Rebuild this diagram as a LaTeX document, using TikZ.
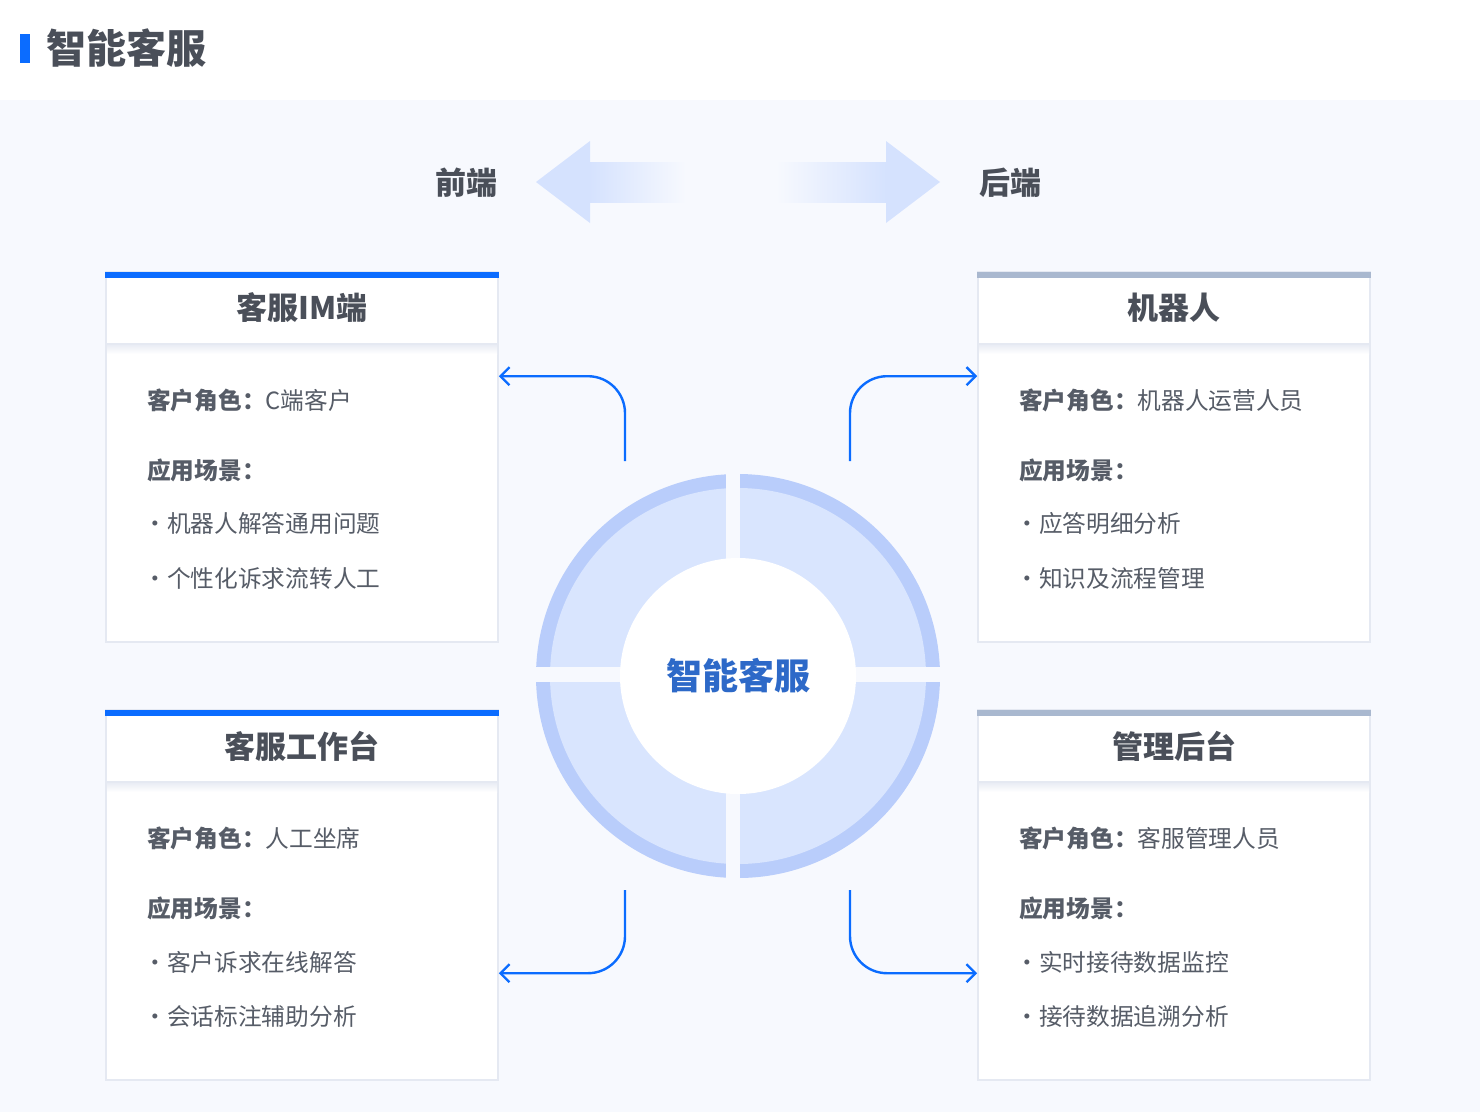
\documentclass[tikz,border=0pt]{standalone}
\usepackage{fontspec}
\setmainfont{Noto Sans CJK SC}
\usetikzlibrary{arrows.meta}
\pgfdeclarelayer{bg}
\pgfsetlayers{bg,main}
\definecolor{pagebg}{HTML}{F7F9FE}
\definecolor{mainblue}{HTML}{0B6CFF}
\definecolor{slatebar}{HTML}{A9B8CF}
\definecolor{cardline}{HTML}{E5E9F2}
\definecolor{headgrey}{HTML}{4A4F59}
\definecolor{textgrey}{HTML}{565C67}
\definecolor{ringblue}{HTML}{B9CDFB}
\definecolor{ringfill}{HTML}{D9E5FE}
\definecolor{hubblue}{HTML}{2D69C8}
\definecolor{wideblue}{HTML}{D5E2FE}
\tikzset{
    cardhead/.style={rectangle, draw=cardline, line width=1.6pt, fill=white, minimum width=392pt, minimum height=72pt, inner sep=0pt, font=\fontsize{31}{36}\selectfont\bfseries, text=headgrey},
    cardbody/.style={rectangle, draw=cardline, line width=1.6pt, fill=white, minimum width=392pt, minimum height=296pt, inner sep=0pt}
}
\tikzset{
    infotext/.style={anchor=west, inner sep=0pt, font=\fontsize{23.7}{28}\selectfont, text=textgrey},
    sidetext/.style={inner sep=0pt, font=\fontsize{31}{36}\selectfont\bfseries, text=headgrey},
    flowline/.style={draw=mainblue, line width=2.4pt, rounded corners=37pt, -{Straight Barb[length=9pt, width=18pt, line width=2.4pt]}}
}
\newcommand{\dotitem}{\makebox[20pt][l]{\hspace{-4pt}·}}

\begin{document}
\begin{tikzpicture}[x=1pt, y=-1pt]
        \useasboundingbox (0,0) rectangle (1480,1112);
        \fill[white] (0,0) rectangle (1480,100);
        \fill[pagebg] (0,100) rectangle (1480,1112);
        \fill[mainblue] (20,34) rectangle (30,63);
        \node (title) [anchor=west, inner sep=0pt, font=\fontsize{40}{46}\selectfont\bfseries, text=headgrey] at (46,48) {智能客服};

        \node (front) [sidetext] at (466,183) {前端};
        \node (back) [sidetext] at (1010,183) {后端};
        \fill[wideblue] (536,182) -- (590,141) -- (590,223) -- cycle;
        \shade[left color=wideblue, right color=pagebg] (589.5,162) rectangle (686,202);
        \fill[wideblue] (940,182) -- (886,141) -- (886,223) -- cycle;
        \shade[left color=pagebg, right color=wideblue] (776,162) rectangle (886.5,202);

        \node (imhead) [cardhead] at (302,308) {客服IM端};
        \node (imbody) [cardbody] at (302,494) {};
        \node (bothead) [cardhead] at (1174,308) {机器人};
        \node (botbody) [cardbody] at (1174,494) {};
        \node (deskhead) [cardhead] at (302,746) {客服工作台};
        \node (deskbody) [cardbody] at (302,932) {};
        \node (adminhead) [cardhead] at (1174,746) {管理后台};
        \node (adminbody) [cardbody] at (1174,932) {};
        \fill[mainblue] (105.2,272) rectangle (498.8,278);
        \fill[mainblue] (105.2,710) rectangle (498.8,716);
        \fill[slatebar] (977.2,272) rectangle (1370.8,278);
        \fill[slatebar] (977.2,710) rectangle (1370.8,716);
        \foreach \cx/\cy in {302/345, 1174/345, 302/783, 1174/783}
                \shade[top color=cardline!80, bottom color=white] (\cx-195,\cy) rectangle (\cx+195,\cy+9);

        \node (imrole) [infotext] at (147,400) {{\bfseries 客户角色：}C端客户};
        \node (imscene) [infotext] at (147,470) {\bfseries 应用场景：};
        \node (imitema) [infotext] at (147,523) {\dotitem 机器人解答通用问题};
        \node (imitemb) [infotext] at (147,578) {\dotitem 个性化诉求流转人工};
        \node (botrole) [infotext] at (1019,400) {{\bfseries 客户角色：}机器人运营人员};
        \node (botscene) [infotext] at (1019,470) {\bfseries 应用场景：};
        \node (botitema) [infotext] at (1019,523) {\dotitem 应答明细分析};
        \node (botitemb) [infotext] at (1019,578) {\dotitem 知识及流程管理};
        \node (deskrole) [infotext] at (147,838) {{\bfseries 客户角色：}人工坐席};
        \node (deskscene) [infotext] at (147,908) {\bfseries 应用场景：};
        \node (deskitema) [infotext] at (147,962) {\dotitem 客户诉求在线解答};
        \node (deskitemb) [infotext] at (147,1016) {\dotitem 会话标注辅助分析};
        \node (adminrole) [infotext] at (1019,838) {{\bfseries 客户角色：}客服管理人员};
        \node (adminscene) [infotext] at (1019,908) {\bfseries 应用场景：};
        \node (adminitema) [infotext] at (1019,962) {\dotitem 实时接待数据监控};
        \node (adminitemb) [infotext] at (1019,1016) {\dotitem 接待数据追溯分析};

        \fill[ringblue] (738,676) circle (202);
        \fill[ringfill] (738,676) circle (188);
        \fill[pagebg] (726,470) rectangle (740,882);
        \fill[pagebg] (530,667) rectangle (946,682);
        \node (hub) [circle, fill=white, minimum size=236pt, inner sep=0pt, font=\fontsize{36}{40}\selectfont\bfseries, text=hubblue] at (738,676) {智能客服};

        \coordinate (imout) at (625,461);
        \coordinate (botout) at (850,461);
        \coordinate (deskout) at (625,890);
        \coordinate (adminout) at (850,890);
        \coordinate (imin) at ([yshift=-31pt]imbody.north east);
        \coordinate (botin) at ([yshift=-31pt]botbody.north west);
        \coordinate (deskin) at ([yshift=-190pt]deskbody.north east);
        \coordinate (adminin) at ([yshift=-190pt]adminbody.north west);
        \draw[flowline] (imout) |- (imin);
        \draw[flowline] (botout) |- (botin);
        \draw[flowline] (deskout) |- (deskin);
        \draw[flowline] (adminout) |- (adminin);
\end{tikzpicture}
\end{document}
